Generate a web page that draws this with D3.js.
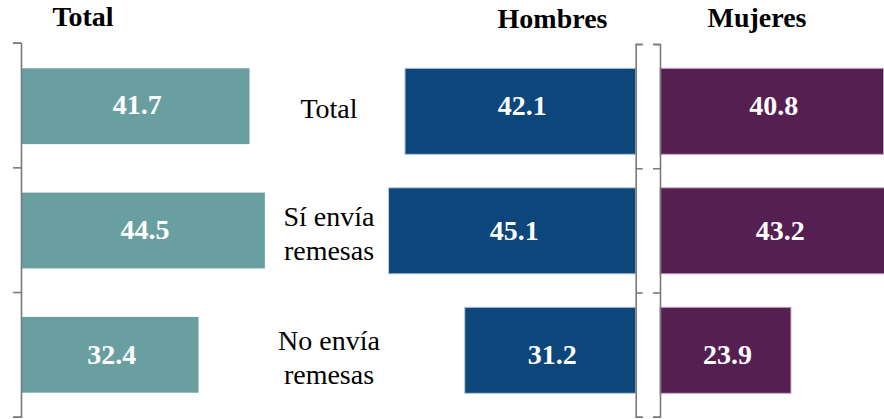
<!DOCTYPE html>
<html>
<head>
<meta charset="utf-8">
<script src="https://cdn.jsdelivr.net/npm/d3@7"></script>
</head>
<body style="margin:0">
<svg id="chart" width="884" height="419" style="display:block"></svg>
<script>
// ---- data ----
const categories = ["Total", "Sí envía remesas", "No envía remesas"];
const categoryLines = [["Total"], ["Sí envía", "remesas"], ["No envía", "remesas"]];
const totalValues = [41.7, 44.5, 32.4];
const hombresValues = [42.1, 45.1, 31.2];
const mujeresValues = [40.8, 43.2, 23.9];
const panelTitles = ["Total", "Hombres", "Mujeres"];

// ---- styles ----
const colTotal = "#6a9fa2";
const colHombres = "#0c467a";
const colMujeres = "#561f52";
const axisColor = "#7a7a7a";
const FS = 28;
const FONT = "'Liberation Serif'";

const svg = d3.select("#chart");

// ---- scales ----
const pxPerUnit = 5.48;
const xTotal = d3.scaleLinear().domain([0, 50]).range([21, 21 + 50 * pxPerUnit]);
const xHombres = d3.scaleLinear().domain([0, 50]).range([635.7, 635.7 - 50 * pxPerUnit]);
const xMujeres = d3.scaleLinear().domain([0, 50]).range([660, 660 + 50 * pxPerUnit]);

// axis bands (tick boundaries)
const yAxisLeft = d3.scaleBand().domain(categories).range([42.7, 416.7]);
const yAxisRight = d3.scaleBand().domain(categories).range([44, 416.7]);
const yLinLeft = d3.scaleLinear().domain([0, 3]).range([42.7, 416.7]);
const yLinRight = d3.scaleLinear().domain([0, 3]).range([44, 416.7]);

// bar bands
const yBarLeft = d3.scaleBand().domain(categories).range([68.3, 392.7]).paddingInner(0.39).paddingOuter(0);
const yBarRight = d3.scaleBand().domain(categories).range([68.3, 393.3]).paddingInner(0.28).paddingOuter(0);

// ---- bars ----
function drawBars(values, x, yb, ya, color, reversed, stroke) {
  const g = svg.append("g");
  const data = categories.map((c, i) => ({ c, v: values[i] }));
  g.selectAll("rect").data(data).join("rect")
    .attr("x", d => reversed ? x(d.v) : x(0))
    .attr("y", d => yb(d.c))
    .attr("width", d => Math.abs(x(d.v) - x(0)))
    .attr("height", yb.bandwidth())
    .attr("fill", color)
    .attr("stroke", stroke || "none")
    .attr("stroke-width", stroke ? 1 : 0);
  g.selectAll("text").data(data).join("text")
    .attr("x", d => (x(d.v) + x(0)) / 2 + 2)
    .attr("y", d => ya(d.c) + ya.bandwidth() / 2)
    .attr("dy", "0.33em")
    .attr("text-anchor", "middle")
    .style("font-family", FONT)
    .attr("font-weight", "bold")
    .attr("font-size", FS)
    .attr("fill", "#ffffff")
    .text(d => d.v.toFixed(1));
}

drawBars(totalValues, xTotal, yBarLeft, yAxisLeft, colTotal, false, null);
drawBars(hombresValues, xHombres, yBarRight, yAxisRight, colHombres, true, "#b9c8da");
drawBars(mujeresValues, xMujeres, yBarRight, yAxisRight, colMujeres, false, "#c9a9c6");

// ---- axes (bracket style) ----
function styleAxis(g) {
  g.selectAll("path, line").attr("stroke", axisColor).attr("stroke-width", 1.6);
  g.selectAll("text").remove();
}
svg.append("g").attr("transform", `translate(${xTotal(0)},0)`)
  .call(d3.axisLeft(yLinLeft).tickValues([0, 1, 2, 3]).tickSize(8).tickFormat(""))
  .call(styleAxis);
svg.append("g").attr("transform", `translate(${xHombres(0)},0)`)
  .call(d3.axisRight(yLinRight).tickValues([0, 1, 2, 3]).tickSize(7).tickFormat(""))
  .call(styleAxis);
svg.append("g").attr("transform", `translate(${xMujeres(0)},0)`)
  .call(d3.axisLeft(yLinRight).tickValues([0, 1, 2, 3]).tickSize(7).tickFormat(""))
  .call(styleAxis);

// ---- category labels ----
const lineH = 34;
const catG = svg.append("g");
categoryLines.forEach((lines, i) => {
  const c = yAxisRight(categories[i]) + yAxisRight.bandwidth() / 2 + 3;
  lines.forEach((ln, j) => {
    catG.append("text")
      .attr("text-anchor", "middle")
      .style("font-family", FONT)
      .attr("font-size", FS)
      .attr("fill", "#000")
      .attr("x", 329)
      .attr("y", c + (j - (lines.length - 1) / 2) * lineH)
      .attr("dy", "0.33em")
      .text(ln);
  });
});

// ---- panel titles ----
const titleX = [83, 552.5, 757];
const titleY = [26, 28, 26.7];
svg.append("g").selectAll("text").data(panelTitles).join("text")
  .attr("x", (d, i) => titleX[i])
  .attr("y", (d, i) => titleY[i])
  .attr("text-anchor", "middle")
  .style("font-family", FONT)
  .attr("font-weight", "bold")
  .attr("font-size", FS)
  .attr("fill", "#000")
  .text(d => d);
</script>
</body>
</html>
